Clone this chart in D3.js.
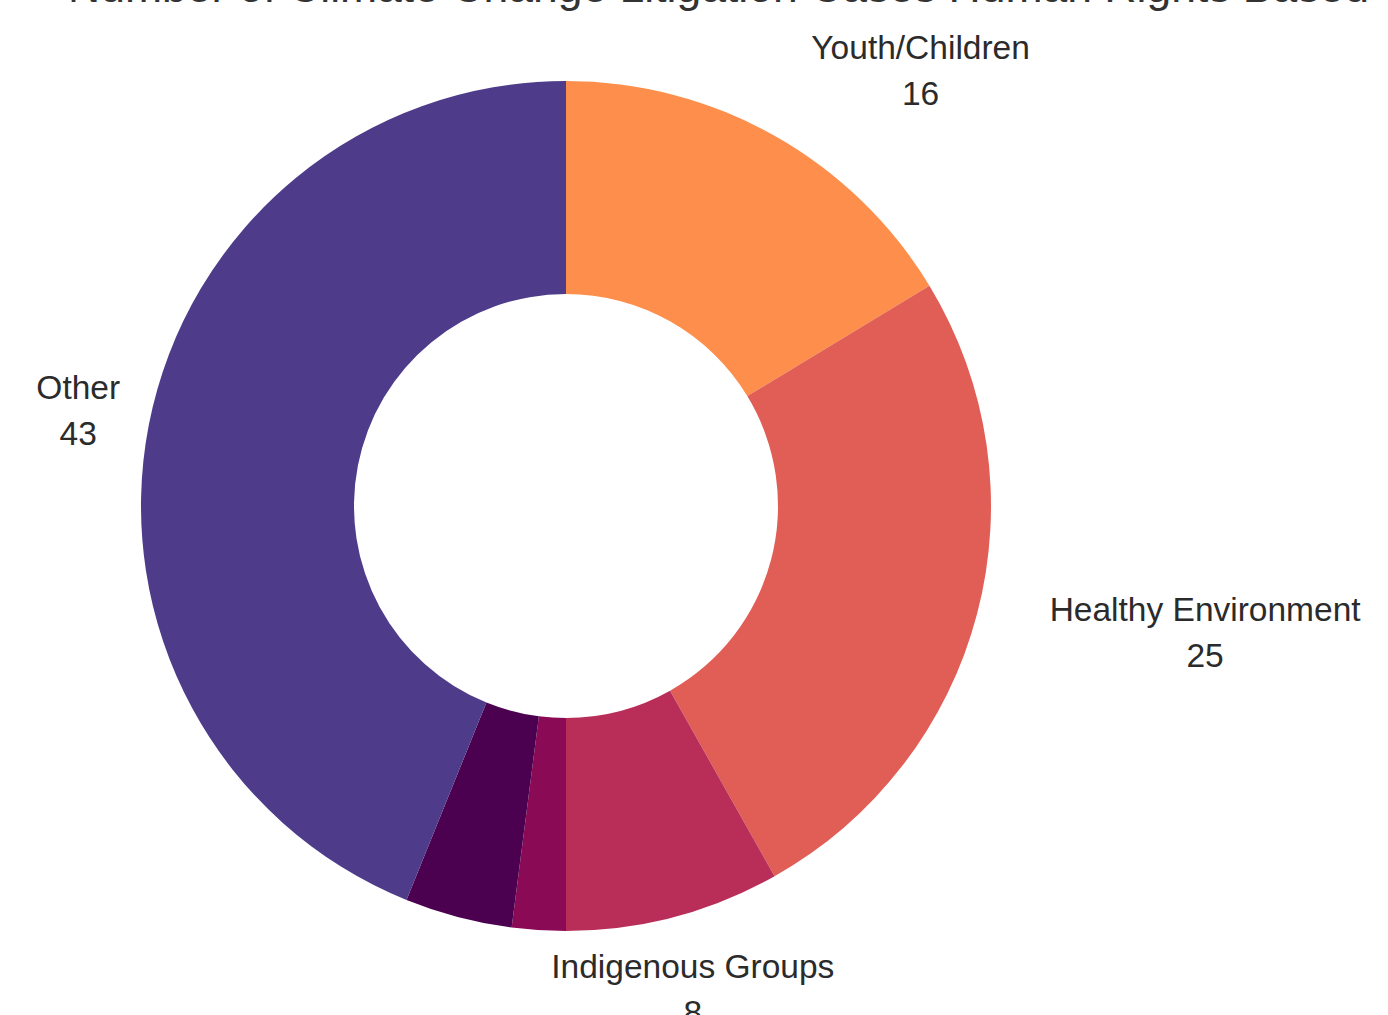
<!DOCTYPE html>
<html>
<head>
<meta charset="utf-8">
<script src="https://cdn.jsdelivr.net/npm/d3@7"></script>
<style>
  html, body { margin: 0; padding: 0; background: #fff; }
  svg { display: block; }
  text { font-family: "Liberation Sans", Arial, sans-serif; }
</style>
</head>
<body>
<svg id="chart" width="1388" height="1015"></svg>
<script>
// ---- data ----
const titleText = "Number of Climate Change Litigation Cases Human Rights Based";
const categories = ["Youth/Children", "Healthy Environment", "Indigenous Groups", "Right to Health", "Right to Life", "Other"];
const values = [16, 25, 8, 2, 4, 43];
const colors = ["#fd8e4b", "#e15e56", "#b92e59", "#8a0a56", "#4c0050", "#4e3b8a"];
const showLabel = [true, true, true, false, false, true];

// ---- layout ----
const W = 1388, H = 1015;
const cx = 566, cy = 506;
const outerR = 425, innerR = 212, labelR = 500;

const svg = d3.select("#chart");

svg.append("text")
  .attr("x", 68)
  .attr("y", 1.5)
  .attr("font-size", 44.5)
  .attr("fill", "#333")
  .text(titleText);

const data = categories.map((c, i) => ({ name: c, value: values[i], color: colors[i], show: showLabel[i] }));

const pie = d3.pie().value(d => d.value).sort(null);
const arcs = pie(data);
const arc = d3.arc().innerRadius(innerR).outerRadius(outerR);

const g = svg.append("g").attr("transform", `translate(${cx},${cy})`);

g.selectAll("path.slice")
  .data(arcs)
  .join("path")
  .attr("class", "slice")
  .attr("d", arc)
  .attr("fill", d => d.data.color);

const lineGap = 46;
const labels = g.selectAll("g.label")
  .data(arcs.filter(d => d.data.show))
  .join("g")
  .attr("class", "label");

labels.each(function(d) {
  const mid = (d.startAngle + d.endAngle) / 2;
  const s = Math.sin(mid), c = -Math.cos(mid);
  const ax = labelR * s, ay = labelR * c;
  const grp = d3.select(this);
  const t1 = grp.append("text")
    .attr("font-size", 33.5)
    .attr("fill", "#2b2b2b")
    .attr("text-anchor", "middle")
    .attr("dominant-baseline", "central")
    .attr("y", ay - lineGap / 2)
    .text(d.data.name);
  const w = t1.node().getComputedTextLength();
  const xc = s > 0.4 ? ax + w / 2 : (s < -0.4 ? ax + 3 : ax);
  t1.attr("x", xc);
  grp.append("text")
    .attr("font-size", 33.5)
    .attr("fill", "#2b2b2b")
    .attr("text-anchor", "middle")
    .attr("dominant-baseline", "central")
    .attr("x", xc)
    .attr("y", ay + lineGap / 2)
    .text(d3.format("d")(d.data.value));
});
</script>
</body>
</html>
